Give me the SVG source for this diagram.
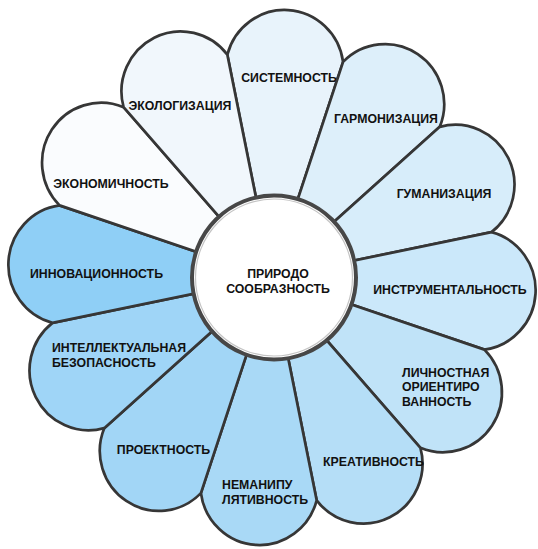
<svg xmlns="http://www.w3.org/2000/svg" width="538" height="549" viewBox="0 0 538 549">
<style>
.petal{stroke:#363636;stroke-width:2.7;stroke-linejoin:round}
.lbl{font-family:"Liberation Sans",Arial,sans-serif;font-weight:bold;font-size:12.3px;fill:#111}
.c{text-anchor:middle}
.hub{fill:#ffffff;stroke:#474747;stroke-width:4}
</style>
<rect x="0" y="0" width="538" height="549" fill="#ffffff"/>
<g id="petals">
<g id="n-sistemnost">
<path class="petal" fill="#e8f3fb" transform="translate(272 277.5) scale(1 1.015)" d="M0 0 L-44.66 -219.50 A59.1 59.1 0 0 1 71.08 -212.42 Z"/>
<text class="lbl c" x="289" y="81.5">СИСТЕМНОСТЬ</text>
</g>
<g id="n-garmonizatsiya">
<path class="petal" fill="#ddeffa" transform="translate(272 277.5) scale(1 1.015)" d="M0 0 L71.08 -212.42 A59.1 59.1 0 0 1 167.77 -148.43 Z"/>
<text class="lbl c" x="386" y="122.5">ГАРМОНИЗАЦИЯ</text>
</g>
<g id="n-gumanizatsiya">
<path class="petal" fill="#d7edfa" transform="translate(272 277.5) scale(1 1.015)" d="M0 0 L167.77 -148.43 A59.1 59.1 0 0 1 219.50 -44.66 Z"/>
<text class="lbl c" x="444" y="197.5">ГУМАНИЗАЦИЯ</text>
</g>
<g id="n-instrumentalnost">
<path class="petal" fill="#cbe8fa" transform="translate(272 277.5) scale(1 1.015)" d="M0 0 L219.50 -44.66 A59.1 59.1 0 0 1 212.42 71.08 Z"/>
<text class="lbl c" x="450" y="293.5">ИНСТРУМЕНТАЛЬНОСТЬ</text>
</g>
<g id="n-lichnostnaya">
<path class="petal" fill="#c0e3f8" transform="translate(272 277.5) scale(1 1.015)" d="M0 0 L212.42 71.08 A59.1 59.1 0 0 1 148.43 167.77 Z"/>
<text class="lbl" x="402" y="376.5">ЛИЧНОСТНАЯ</text>
<text class="lbl" x="402" y="391">ОРИЕНТИРО</text>
<text class="lbl" x="402" y="405.5">ВАННОСТЬ</text>
</g>
<g id="n-kreativnost">
<path class="petal" fill="#b5def7" transform="translate(272 277.5) scale(1 1.015)" d="M0 0 L148.43 167.77 A59.1 59.1 0 0 1 44.66 219.50 Z"/>
<text class="lbl c" x="373.5" y="465.5">КРЕАТИВНОСТЬ</text>
</g>
<g id="n-nemanipulyativnost">
<path class="petal" fill="#a9d9f6" transform="translate(272 277.5) scale(1 1.015)" d="M0 0 L44.66 219.50 A59.1 59.1 0 0 1 -71.08 212.42 Z"/>
<text class="lbl" x="222" y="488.5">НЕМАНИПУ</text>
<text class="lbl" x="222" y="503.5">ЛЯТИВНОСТЬ</text>
</g>
<g id="n-proektnost">
<path class="petal" fill="#a2d6f6" transform="translate(272 277.5) scale(1 1.015)" d="M0 0 L-71.08 212.42 A59.1 59.1 0 0 1 -167.77 148.43 Z"/>
<text class="lbl c" x="163.5" y="453.5">ПРОЕКТНОСТЬ</text>
</g>
<g id="n-intellektualnaya">
<path class="petal" fill="#9fd5f7" transform="translate(272 277.5) scale(1 1.015)" d="M0 0 L-167.77 148.43 A59.1 59.1 0 0 1 -219.50 44.66 Z"/>
<text class="lbl" x="52" y="351.5">ИНТЕЛЛЕКТУАЛЬНАЯ</text>
<text class="lbl" x="52" y="366.5">БЕЗОПАСНОСТЬ</text>
</g>
<g id="n-innovatsionnost">
<path class="petal" fill="#8fcff6" transform="translate(272 277.5) scale(1 1.015)" d="M0 0 L-219.50 44.66 A59.1 59.1 0 0 1 -212.42 -71.08 Z"/>
<text class="lbl c" x="96.5" y="277.5">ИННОВАЦИОННОСТЬ</text>
</g>
<g id="n-ekonomichnost">
<path class="petal" fill="#fafcfe" transform="translate(272 277.5) scale(1 1.015)" d="M0 0 L-212.42 -71.08 A59.1 59.1 0 0 1 -148.43 -167.77 Z"/>
<text class="lbl c" x="111" y="187.5">ЭКОНОМИЧНОСТЬ</text>
</g>
<g id="n-ekologizatsiya">
<path class="petal" fill="#f1f7fc" transform="translate(272 277.5) scale(1 1.015)" d="M0 0 L-148.43 -167.77 A59.1 59.1 0 0 1 -44.66 -219.50 Z"/>
<text class="lbl c" x="180" y="110">ЭКОЛОГИЗАЦИЯ</text>
</g>
</g>
<g id="n-center">
<circle class="hub" cx="274" cy="277.5" r="82"/>
<circle cx="274" cy="277.5" r="78.5" fill="none" stroke="#c4c4c4" stroke-width="1.2"/>
<text class="lbl c" x="278" y="277.5">ПРИРОДО</text>
<text class="lbl c" x="278" y="292.5">СООБРАЗНОСТЬ</text>
</g>
<g id="connectors"/>
</svg>
